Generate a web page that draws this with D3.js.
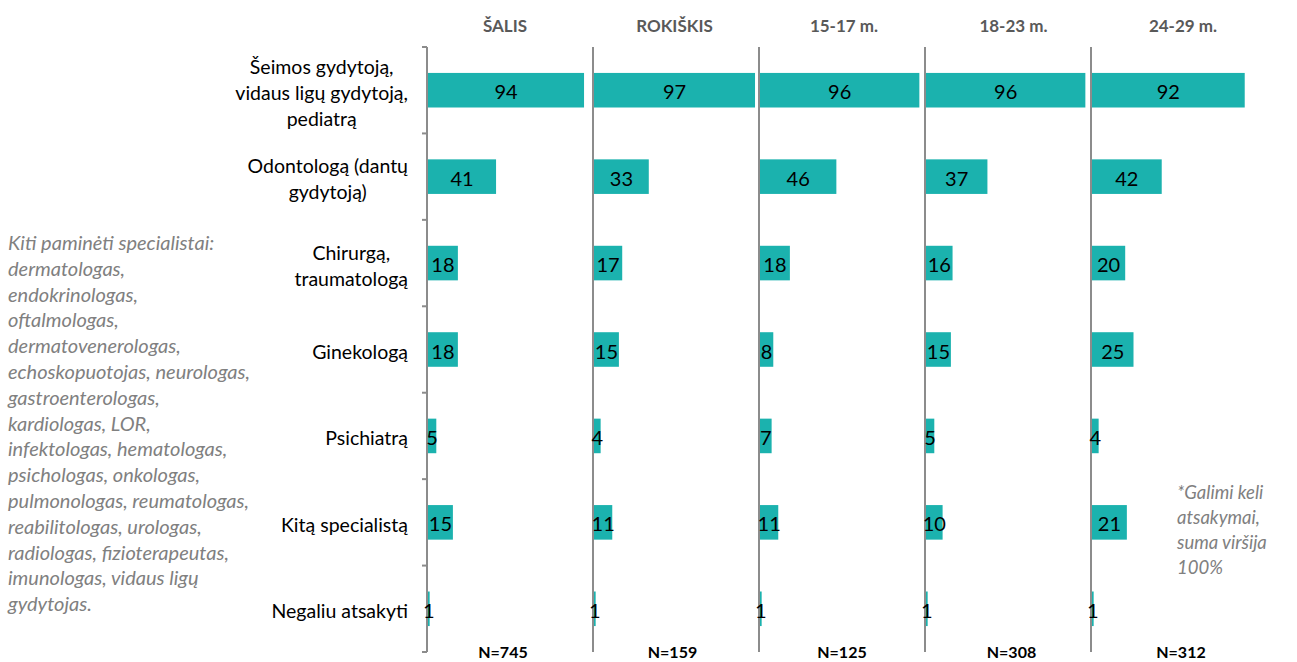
<!DOCTYPE html>
<html>
<head>
<meta charset="utf-8">
<script src="https://cdn.jsdelivr.net/npm/d3@7/dist/d3.min.js"></script>
<style>
  html, body { margin: 0; padding: 0; background: #fff; }
  svg { display: block; }
</style>
</head>
<body>
<svg id="chart" width="1297" height="662"></svg>
<script>
// ---- DATA ----
const categories = [
  ["Šeimos gydytoją,", "vidaus ligų gydytoją,", "pediatrą"],
  ["Odontologą (dantų", "gydytoją)"],
  ["Chirurgą,", "traumatologą"],
  ["Ginekologą"],
  ["Psichiatrą"],
  ["Kitą specialistą"],
  ["Negaliu atsakyti"]
];
const groups = ["ŠALIS", "ROKIŠKIS", "15-17 m.", "18-23 m.", "24-29 m."];
const nLabels = ["N=745", "N=159", "N=125", "N=308", "N=312"];
const valuesSalis    = [94, 41, 18, 18, 5, 15, 1];
const valuesRokiskis = [97, 33, 17, 15, 4, 11, 1];
const values1517     = [96, 46, 18, 8, 7, 11, 1];
const values1823     = [96, 37, 16, 15, 5, 10, 1];
const values2429     = [92, 42, 20, 25, 4, 21, 1];
const seriesValues = [valuesSalis, valuesRokiskis, values1517, values1823, values2429];
const noteLeft = [
  "Kiti paminėti specialistai:", "dermatologas,", "endokrinologas,", "oftalmologas,",
  "dermatovenerologas,", "echoskopuotojas, neurologas,", "gastroenterologas,",
  "kardiologas, LOR,", "infektologas, hematologas,", "psichologas, onkologas,",
  "pulmonologas, reumatologas,", "reabilitologas, urologas,", "radiologas, fizioterapeutas,",
  "imunologas, vidaus ligų", "gydytojas."
];
const noteRight = ["*Galimi keli", "atsakymai,", "suma viršija", "100%"];

// ---- LAYOUT ----
const svg = d3.select("#chart");
const barColor = "#1BB2AE";
const axisColor = "#8C8C8C";
const font = "Lato, 'Open Sans', sans-serif";
const panelStart = 427, panelW = 166, plotTop = 47, plotBottom = 652;

const catIdx = d3.range(categories.length);
const y = d3.scaleBand().domain(catIdx).range([plotTop, plotBottom]).paddingInner(0.6).paddingOuter(0.3);
const step = y.step();
const px = d3.scaleBand().domain(d3.range(groups.length)).range([panelStart, panelStart + panelW * groups.length]).padding(0);
const x = d3.scaleLinear().domain([0, 100]).range([0, panelW]);

groups.forEach((g, gi) => {
  const gx = px(gi);
  const panel = svg.append("g").attr("transform", `translate(${gx},0)`);
  panel.selectAll("rect").data(seriesValues[gi]).join("rect")
    .attr("x", 1)
    .attr("y", (d, i) => y(i))
    .attr("width", d => x(d))
    .attr("height", y.bandwidth())
    .attr("fill", barColor);
  panel.append("line")
    .attr("x1", 0).attr("x2", 0).attr("y1", plotTop).attr("y2", plotBottom)
    .attr("stroke", axisColor).attr("stroke-width", 2);
  panel.selectAll("text.val").data(seriesValues[gi]).join("text")
    .attr("class", "val")
    .attr("x", d => 1 + x(d) / 2)
    .attr("y", (d, i) => y(i) + y.bandwidth() / 2 + 1)
    .attr("text-anchor", "middle")
    .attr("dominant-baseline", "central")
    .attr("font-family", font)
    .attr("font-size", 20)
    .attr("fill", "#000")
    .text(d => d);
  svg.append("text")
    .attr("x", 505 + gi * 169.5)
    .attr("y", 25)
    .attr("text-anchor", "middle")
    .attr("dominant-baseline", "central")
    .attr("font-family", font)
    .attr("font-weight", "bold")
    .attr("font-size", 17)
    .attr("fill", "#595959")
    .text(g);
  svg.append("text")
    .attr("x", 503 + gi * 169.5)
    .attr("y", 651)
    .attr("text-anchor", "middle")
    .attr("dominant-baseline", "central")
    .attr("font-family", font)
    .attr("font-weight", "bold")
    .attr("font-size", 16)
    .attr("fill", "#000")
    .text(nLabels[gi]);
});

// ticks on the first axis (category boundaries)
const tickYs = d3.range(categories.length + 1).map(i =>
  i === 0 ? plotTop : y(i - 1) + y.bandwidth() + step * y.paddingInner() / 2);
svg.selectAll("line.tick").data(tickYs).join("line")
  .attr("class", "tick")
  .attr("x1", panelStart - 5).attr("x2", panelStart)
  .attr("y1", d => d).attr("y2", d => d)
  .attr("stroke", axisColor).attr("stroke-width", 2);

// category labels
const labelRight = 408, lineH = 26;
categories.forEach((lines, i) => {
  const t = svg.append("text")
    .attr("font-family", font)
    .attr("font-size", 19.5)
    .attr("fill", "#000")
    .attr("text-anchor", "middle");
  const cy = y(i) + y.bandwidth() / 2 + 2;
  lines.forEach((ln, li) => {
    t.append("tspan").attr("x", 0)
      .attr("y", cy + (li - (lines.length - 1) / 2) * lineH)
      .attr("dominant-baseline", "central")
      .text(ln);
  });
  let maxW = 0;
  t.selectAll("tspan").each(function () { maxW = Math.max(maxW, this.getComputedTextLength()); });
  t.selectAll("tspan").attr("x", labelRight - maxW / 2);
});

// notes
const nl = svg.append("text").attr("font-family", font).attr("font-style", "italic")
  .attr("font-size", 20).attr("fill", "#808080");
noteLeft.forEach((ln, i) => nl.append("tspan").attr("x", 8).attr("y", 242 + i * 25.8)
  .attr("dominant-baseline", "central").text(ln));
const nr = svg.append("text").attr("font-family", font).attr("font-style", "italic")
  .attr("font-size", 18.5).attr("fill", "#808080");
noteRight.forEach((ln, i) => nr.append("tspan").attr("x", 1177).attr("y", 492 + i * 25)
  .attr("dominant-baseline", "central").text(ln));
</script>
</body>
</html>
